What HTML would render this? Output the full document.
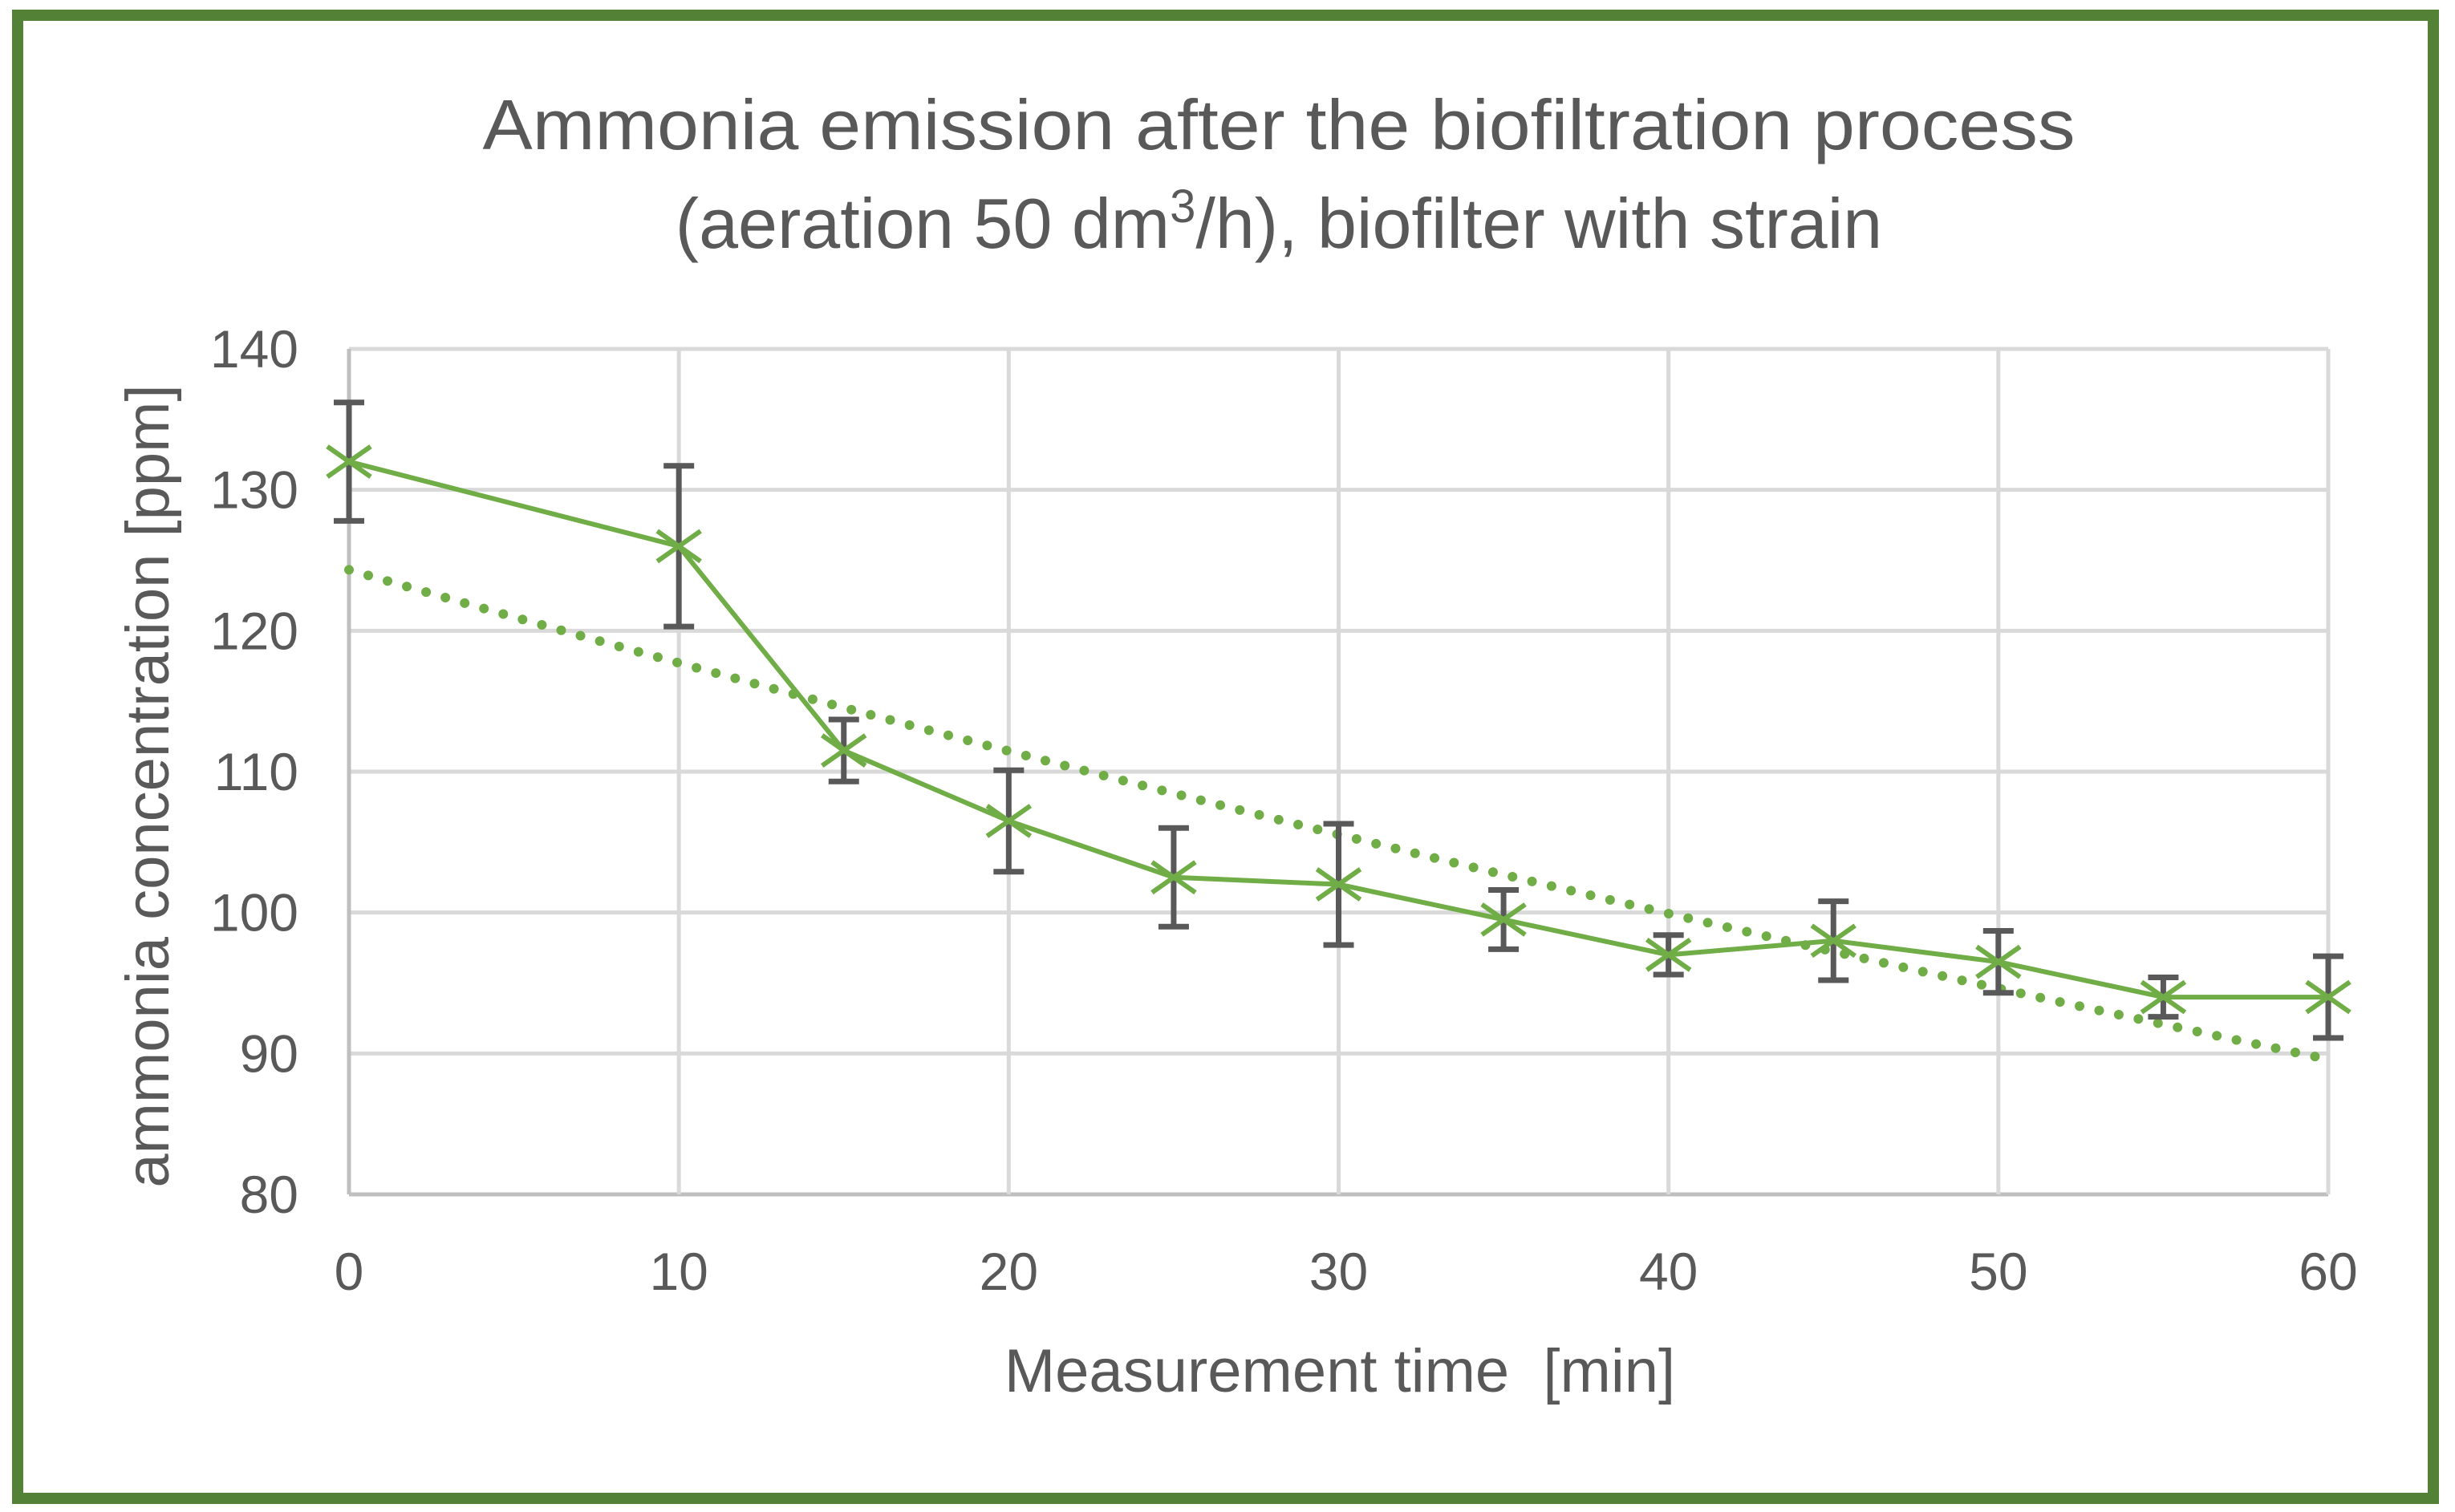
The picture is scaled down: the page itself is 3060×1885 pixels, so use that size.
<!DOCTYPE html>
<html><head><meta charset="utf-8"><style>
html,body{margin:0;padding:0;background:#fff;}
svg{display:block;font-family:"Liberation Sans",sans-serif;}
</style></head><body>
<svg id="chart" width="3060" height="1885" viewBox="0 0 3060 1885">
<rect x="22" y="19" width="3011" height="1849" fill="#fff" stroke="#538135" stroke-width="14"/>
<text x="1594" y="186" font-size="88" fill="#595959" text-anchor="middle" textLength="1985" lengthAdjust="spacingAndGlyphs">Ammonia emission after the biofiltration process</text>
<text x="1594" y="309" font-size="88" fill="#595959" text-anchor="middle">(aeration 50 dm<tspan font-size="58" dy="-32">3</tspan><tspan dy="32">/h), biofilter with strain</tspan></text>
<g id="grid"></g>
<g id="ticks"></g>
<text transform="translate(210,980) rotate(-90)" font-size="76" fill="#595959" text-anchor="middle">ammonia concentration [ppm]</text>
<text x="1670" y="1735" font-size="76" fill="#595959" text-anchor="middle" xml:space="preserve">Measurement time  [min]</text>
<g id="trend"></g>
<g id="series"></g>
</svg>
<script>
const times=[0,10,15,20,25,30,35,40,45,50,55,60];
const values=[132,126,111.5,106.5,102.5,102,99.5,97,98,96.5,94,94];
const errors=[4.2,5.7,2.2,3.6,3.5,4.3,2.1,1.4,2.8,2.2,1.4,2.9];
const xTicks=[0,10,20,30,40,50,60];
const yTicks=[80,90,100,110,120,130,140];
const NS="http://www.w3.org/2000/svg";
const X0=435,X1=2902,Y0=1489,Y1=435;
function sx(v){return X0+(v-0)/(60-0)*(X1-X0);}
function sy(v){return Y0-(v-80)/(140-80)*(Y0-Y1);}
function mk(t,a,p){const e=document.createElementNS(NS,t);for(const k in a)e.setAttribute(k,a[k]);p.appendChild(e);return e;}
const grid=document.getElementById('grid'),ticks=document.getElementById('ticks');
yTicks.forEach(v=>{
  const l=mk('line',{x1:X0,x2:X1,y1:sy(v),y2:sy(v),stroke:v===80?'#bfbfbf':'#d9d9d9','stroke-width':5},grid);
  
  
  const t=mk('text',{x:372,y:sy(v)+23,'font-size':66,fill:'#595959','text-anchor':'end'},ticks);
  t.textContent=v;
  
  
});
xTicks.forEach(v=>{
  const l=mk('line',{x1:sx(v),x2:sx(v),y1:Y1,y2:Y0,stroke:v===0?'#bfbfbf':'#d9d9d9','stroke-width':5},grid);
  
  
  const t=mk('text',{x:sx(v),y:1608,'font-size':66,fill:'#595959','text-anchor':'middle'},ticks);
  t.textContent=v;
  
  
});
// exponential trendline fitted from data
let n=times.length,sX=0,sY=0,sXX=0,sXY=0;
times.forEach((t,i)=>{const ly=Math.log(values[i]);sX+=t;sY+=ly;sXX+=t*t;sXY+=t*ly;});
const b=(n*sXY-sX*sY)/(n*sXX-sX*sX),a=(sY-b*sX)/n;
let d='';for(let t=0;t<=60;t+=1){d+=(t?'L':'M')+sx(t)+','+sy(Math.exp(a+b*t));}
const tr=mk('path',{d:d,fill:'none',stroke:'#70ad47','stroke-width':12,'stroke-linecap':'round','stroke-dasharray':'0 25'},document.getElementById('trend'));


const g=document.getElementById('series');
times.forEach((t,i)=>{
  const x=sx(t),yt=sy(values[i]+errors[i]),yb=sy(values[i]-errors[i]);
  const e=mk('path',{d:`M${x},${yt}V${yb}M${x-19},${yt}H${x+19}M${x-19},${yb}H${x+19}`,stroke:'#595959','stroke-width':7,fill:'none'},g);
  
  
});
const pl=mk('polyline',{points:times.map((t,i)=>sx(t)+','+sy(values[i])).join(' '),fill:'none',stroke:'#70ad47','stroke-width':6},g);


times.forEach((t,i)=>{
  const x=sx(t),y=sy(values[i]),r=27;
  const m=mk('path',{d:`M${x-r},${y-r*0.7}L${x+r},${y+r*0.7}M${x-r},${y+r*0.7}L${x+r},${y-r*0.7}`,stroke:'#70ad47','stroke-width':6,fill:'none'},g);
  
  
});
</script>
</body></html>
